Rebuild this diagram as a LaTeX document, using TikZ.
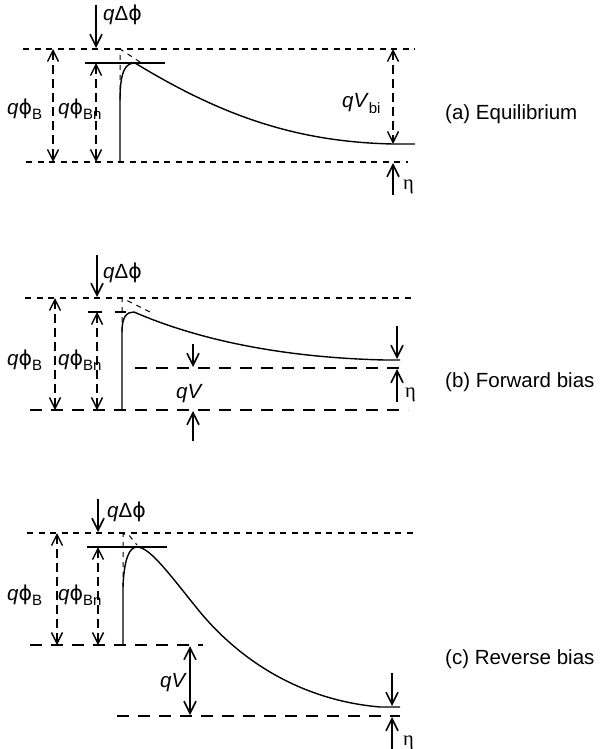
\documentclass[tikz,border=0pt]{standalone}
\usepackage{fontspec}
\setmainfont{Liberation Sans}
\newfontfamily\dvfont{DejaVu Sans}
\newfontfamily\serfont{Liberation Serif}
\usetikzlibrary{arrows.meta}
\newcommand\myphi{{\dvfont ϕ}}
\newcommand\myeta{{\serfont η}}
\newcommand\mysub[1]{\raisebox{-0.25em}{\fontsize{15}{15}\selectfont #1}}
\tikzset{
  lbl/.style={font=\fontsize{20.5}{24}\selectfont, inner sep=0pt, anchor=base west},
  curve/.style={line width=1.4pt, line join=round},
  dimarr/.style={line width=1.2pt, dash pattern=on 9pt off 5pt, {Straight Barb[length=11pt,width=11pt,line width=1.4pt]}-{Straight Barb[length=11pt,width=11pt,line width=1.4pt]}},
  solarr/.style={line width=1.6pt, -{Straight Barb[length=12pt,width=12pt,line width=1.6pt]}},
  soldim/.style={line width=1.6pt, {Straight Barb[length=12pt,width=12pt,line width=1.6pt]}-{Straight Barb[length=12pt,width=12pt,line width=1.6pt]}},
  lvl/.style={line width=1.1pt, dash pattern=on 6pt off 5.5pt},
  lvllong/.style={line width=1.3pt, dash pattern=on 12pt off 9pt},
  thin dash/.style={line width=1pt, dash pattern=on 5pt off 5pt},
}
\begin{document}
\begin{tikzpicture}[x=1pt,y=-1pt]
\useasboundingbox (0,0) rectangle (600,749);

% ===================== (a) Equilibrium =====================
\coordinate (aTL) at (23,49);  \coordinate (aTR) at (415,49);
\coordinate (aBL) at (26,162); \coordinate (aBR) at (408,162);
\draw[lvl] (aTL) -- (aTR);
\draw[lvl] (aBL) -- (aBR);
\coordinate (aBn1) at (85,63); \coordinate (aBn2) at (165,63);
\draw[line width=1.4pt] (aBn1) -- (aBn2);
\draw[curve] (120,162) -- (120,100) .. controls (120,70) and (126,63) .. (135,63)
  .. controls (225,118) and (300,142) .. (393,144) -- (415,144);
\draw[thin dash] (120,100) -- (120,49) -- (140,62);
% arrows
\coordinate (aD1) at (96,5);  \coordinate (aD2) at (96,48);
\draw[solarr] (aD1) -- (aD2);
\coordinate (aP1) at (53,49); \coordinate (aP2) at (53,162);
\draw[dimarr] (aP1) -- (aP2);
\coordinate (aQ1) at (96,63); \coordinate (aQ2) at (96,162);
\draw[dimarr] (aQ1) -- (aQ2);
\coordinate (aV1) at (393,49); \coordinate (aV2) at (393,144);
\draw[dimarr] (aV1) -- (aV2);
\coordinate (aE1) at (393,195); \coordinate (aE2) at (393,163);
\draw[solarr] (aE1) -- (aE2);
% labels
\node[lbl] (aLd) at (103,21) {\textit{q}Δ\myphi};
\node[lbl] (aLb) at (7,114) {\textit{q}\myphi\mysub{B}};
\node[lbl] (aLbn) at (58,114) {\textit{q}\myphi\mysub{Bn}};
\node[lbl] (aLv) at (342,108) {\textit{qV}\mysub{bi}};
\node[lbl] (aLe) at (403,189) {\myeta};
\node[lbl] (aT) at (445,120) {(a) Equilibrium};

% ===================== (b) Forward bias =====================
\coordinate (bTL) at (25,298);  \coordinate (bTR) at (415,298);
\coordinate (bBL) at (30,410);  \coordinate (bBR) at (408,410);
\coordinate (bML) at (135,368); \coordinate (bMR) at (405,368);
\draw[lvl] (bTL) -- (bTR);
\draw[lvllong] (bBL) -- (bBR);
\draw[lvllong] (bML) -- (bMR);
\draw[line width=1.2pt] (88,312) -- (102,312);
\draw[line width=1.2pt] (115,312) -- (126,312);
\draw[curve] (122,410) -- (122,332) .. controls (122,316) and (127,312) .. (134,312)
  .. controls (210,345) and (300,358) .. (385,360) -- (400,360);
\draw[thin dash] (122,332) -- (122,298) -- (152,313);
\coordinate (bD1) at (97,255); \coordinate (bD2) at (97,297);
\draw[solarr] (bD1) -- (bD2);
\coordinate (bP1) at (55,298); \coordinate (bP2) at (55,410);
\draw[dimarr] (bP1) -- (bP2);
\coordinate (bQ1) at (97,312); \coordinate (bQ2) at (97,410);
\draw[dimarr] (bQ1) -- (bQ2);
\coordinate (bV1) at (193,344); \coordinate (bV2) at (193,367);
\draw[solarr] (bV1) -- (bV2);
\coordinate (bV3) at (193,441); \coordinate (bV4) at (193,411);
\draw[solarr] (bV3) -- (bV4);
\coordinate (bE1) at (397,326); \coordinate (bE2) at (397,359);
\draw[solarr] (bE1) -- (bE2);
\coordinate (bE3) at (397,402); \coordinate (bE4) at (397,369);
\draw[solarr] (bE3) -- (bE4);
\node[lbl] (bLd) at (103,278) {\textit{q}Δ\myphi};
\node[lbl] (bLb) at (7,365) {\textit{q}\myphi\mysub{B}};
\node[lbl] (bLbn) at (58,365) {\textit{q}\myphi\mysub{Bn}};
\node[lbl] (bLv) at (176,398) {\textit{qV}};
\node[lbl] (bLe) at (405,397) {\myeta};
\node[lbl] (bT) at (445,387) {(b) Forward bias};

% ===================== (c) Reverse bias =====================
\coordinate (cTL) at (27,533);  \coordinate (cTR) at (415,533);
\coordinate (cML) at (30,645);  \coordinate (cMR) at (203,645);
\coordinate (cBL) at (117,716); \coordinate (cBR) at (400,716);
\draw[lvl] (cTL) -- (cTR);
\draw[lvllong] (cML) -- (cMR);
\draw[lvllong] (cBL) -- (cBR);
\coordinate (cBn1) at (87,547); \coordinate (cBn2) at (167,547);
\draw[line width=1.4pt] (cBn1) -- (cBn2);
\draw[curve] (123,645) -- (123,587) .. controls (124,560) and (129,547) .. (137,547)
  .. controls (150,547) and (170,575) .. (200,612)
  .. controls (240,660) and (300,700) .. (380,707) -- (400,707);
\draw[thin dash] (123,587) -- (123,534) -- (128,534) -- (137,545);
\coordinate (cD1) at (98,499); \coordinate (cD2) at (98,532);
\draw[solarr] (cD1) -- (cD2);
\coordinate (cP1) at (57,533); \coordinate (cP2) at (57,645);
\draw[dimarr] (cP1) -- (cP2);
\coordinate (cQ1) at (98,547); \coordinate (cQ2) at (98,645);
\draw[dimarr] (cQ1) -- (cQ2);
\coordinate (cV1) at (190,646); \coordinate (cV2) at (190,715);
\draw[soldim] (cV1) -- (cV2);
\coordinate (cE1) at (392,673); \coordinate (cE2) at (392,706);
\draw[solarr] (cE1) -- (cE2);
\coordinate (cE3) at (392,749); \coordinate (cE4) at (392,717);
\draw[solarr] (cE3) -- (cE4);
\node[lbl] (cLd) at (107,517) {\textit{q}Δ\myphi};
\node[lbl] (cLb) at (7,600) {\textit{q}\myphi\mysub{B}};
\node[lbl] (cLbn) at (58,600) {\textit{q}\myphi\mysub{Bn}};
\node[lbl] (cLv) at (160,687) {\textit{qV}};
\node[lbl] (cLe) at (403,745) {\myeta};
\node[lbl] (cT) at (445,664) {(c) Reverse bias};
\end{tikzpicture}
\end{document}
